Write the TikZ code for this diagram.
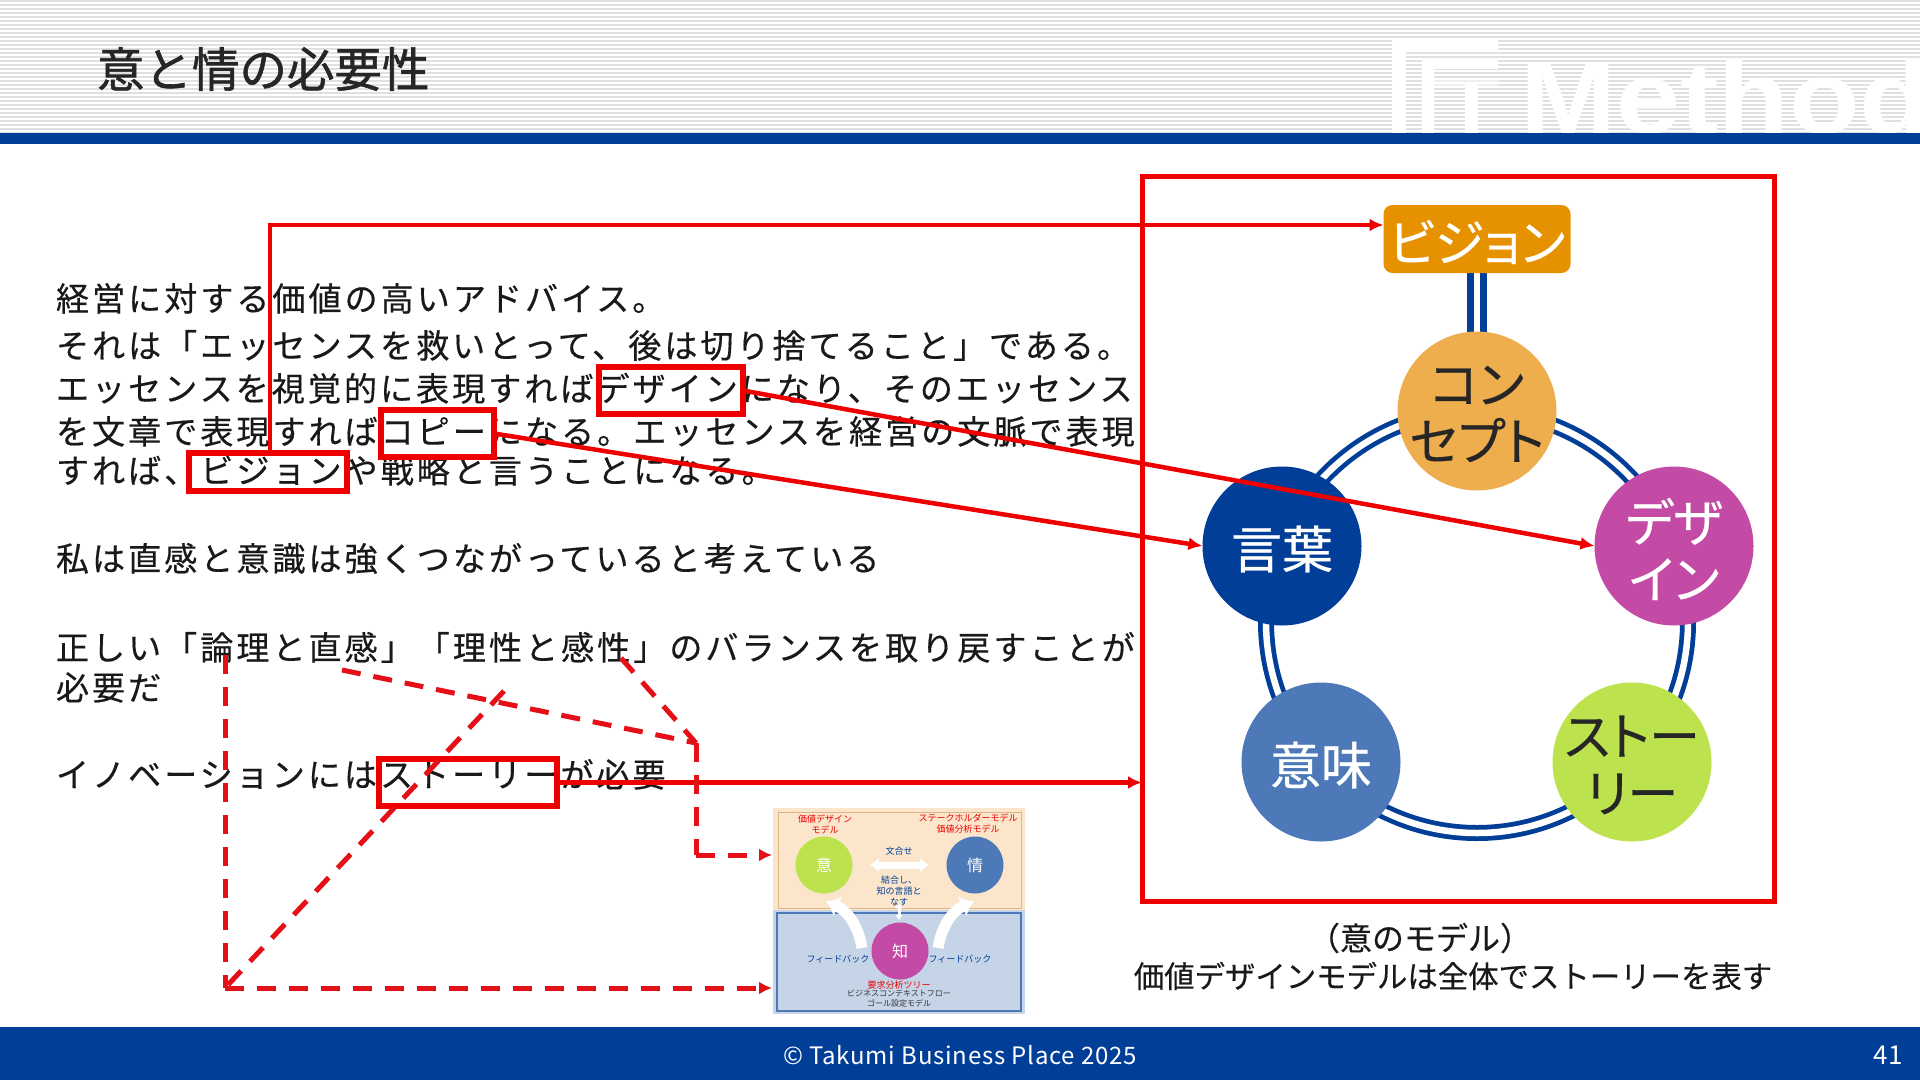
\documentclass[tikz,border=0pt]{standalone}
\usepackage{fontspec}
\usetikzlibrary{arrows.meta}
\newfontfamily\jp{Noto Sans CJK JP}
\newfontfamily\jpp[RawFeature=+palt,FakeBold=0.5]{Noto Sans CJK JP}
\newfontfamily\jpb[FakeBold=1.2]{Noto Sans CJK JP}
\newfontfamily\jpsp[LetterSpace=9,FakeBold=0.4]{Noto Sans CJK JP}
\newfontfamily\capfont[FakeBold=0.3]{Noto Sans CJK JP}
\newfontfamily\logofont[FakeStretch=1.12]{Liberation Sans}
\newfontfamily\foot[LetterSpace=3.2]{Noto Sans CJK JP}
\definecolor{navy}{HTML}{003E97}
\definecolor{redl}{HTML}{EE0000}
\definecolor{redd}{HTML}{E50F18}
\definecolor{cOrange}{HTML}{E69200}
\definecolor{cConcept}{HTML}{EFAE4E}
\definecolor{cMagenta}{HTML}{C44BA5}
\definecolor{cLime}{HTML}{BCE34D}
\definecolor{cBlue}{HTML}{4D79B9}
\definecolor{tint1}{HTML}{FBE5CB}
\definecolor{tint2}{HTML}{C6D4E8}
\tikzset{
  x=1pt,y=-1pt,
  every node/.style={inner sep=0pt,outer sep=0pt},
  body/.style={anchor=base west,font=\jpsp\fontsize{33.1}{33}\selectfont,text=black!90},
  hl/.style={draw=redl,line width=6.5pt,fill=none},
  conn/.style={draw=redl,line width=4.5pt,-{Latex[length=14pt,width=13pt]}},
  dashconn/.style={draw=redd,line width=5pt,dash pattern=on 19pt off 13pt},
  dashhead/.style={draw=redd,line width=5pt,dash pattern=on 19pt off 13pt,-{Latex[length=13pt,width=13pt]}},
  circ/.style={circle,minimum size=159pt},
  clabel/.style={align=center,yshift=-3pt,font=\jpp\fontsize{51}{57}\selectfont},
  ringo/.style={draw=navy,line width=16pt},
  ringi/.style={draw=white,line width=6.5pt},
  mini/.style={circle,minimum size=57pt},
  minilabel/.style={font=\jp\fontsize{16}{16}\selectfont,text=white},
  tiny/.style={align=center,font=\jp\fontsize{9}{11}\selectfont,text=navy},
  tinyr/.style={align=center,font=\jp\fontsize{9}{11}\selectfont,text=redl},
}
\begin{document}
\begin{tikzpicture}
\useasboundingbox (0,0) rectangle (1920,1080);
\fill[white] (0,0) rectangle (1920,1080);
% header stripes
\fill[white] (0,0) rectangle (1920,133);
\foreach \yy in {0,4,...,132}{\fill[black!12] (0,\yy) rectangle (1920,\yy+1.9);}
% logo
\fill[white] (1392,38) rectangle (1406,133);
\fill[white] (1392,38) rectangle (1498,50);
\fill[white] (1422,60) rectangle (1498,69);
\fill[white] (1422,60) rectangle (1434,133);
\fill[white] (1465,82) rectangle (1478,133);
\fill[white,opacity=.5] (1434,80) rectangle (1498,88);
\node[anchor=base west,font=\logofont\bfseries\fontsize{103}{103}\selectfont,text=white] (logotext) at (1520,133) {Method};
\fill[navy] (0,133) rectangle (1920,144);
\node[anchor=base west,font=\jpb\fontsize{47.5}{47}\selectfont,text=black!85] (title) at (97,87) {意と情の必要性};
% footer
\fill[navy] (0,1027) rectangle (1920,1080);
\node[anchor=center,font=\foot\fontsize{24}{24}\selectfont,text=white] (copy) at (960,1055) {© Takumi Business Place 2025};
\node[anchor=center,font=\foot\fontsize{26}{26}\selectfont,text=white] (page) at (1888,1055) {41};
% body text
\node[body] (l1) at (56,311) {経営に対する価値の高いアドバイス。};
\node[body] (l2) at (56,358) {それは「エッセンスを救いとって、後は切り捨てること」である。};
\node[body] (l3) at (56,401) {エッセンスを視覚的に表現すればデザインになり、そのエッセンス};
\node[body] (l4) at (56,444) {を文章で表現すればコピーになる。エッセンスを経営の文脈で表現};
\node[body] (l5) at (56,483) {すれば、ビジョンや戦略と言うことになる。};
\node[body] (l6) at (56,571) {私は直感と意識は強くつながっていると考えている};
\node[body] (l7) at (56,660) {正しい「論理と直感」「理性と感性」のバランスを取り戻すことが};
\node[body] (l8) at (56,700) {必要だ};
\node[body] (l9) at (56,787) {イノベーションにはストーリーが必要};
% caption
\node[anchor=center,font=\capfont\fontsize{32}{32}\selectfont,text=black!90] (cap1) at (1420,938) {（意のモデル）};
\node[anchor=center,font=\capfont\fontsize{30.4}{32}\selectfont,text=black!90] (cap2) at (1453,976) {価値デザインモデルは全体でストーリーを表す};
% frame
\node[draw=redl,line width=5pt,minimum width=632pt,minimum height=725pt,anchor=north west] (frame) at (1142,176) {};
% ring
\coordinate (rc) at (1477,622);
\draw[ringo] (rc) circle (211);
\draw[ringi] (rc) circle (211);
\draw[navy,line width=20pt] (1477,260) -- (1477,345);
\draw[white,line width=6.5pt] (1477,260) -- (1477,345);
% circles
\node[fill=cOrange,rounded corners=9pt,minimum width=187pt,minimum height=68pt] (vis) at (1477,239) {};
\node[clabel,text=white,font=\jpp\fontsize{50}{57}\selectfont] (visT) at (vis) {ビジョン};
\node[circ,fill=cConcept] (con) at (1477,411) {};
\node[clabel,text=black!85] (conT) at (con) {コン\\セプト};
\node[circ,fill=cMagenta] (des) at (1674,546) {};
\node[clabel,text=white] (desT) at (des) {デザ\\イン};
\node[circ,fill=cLime] (sto) at (1632,762) {};
\node[clabel,text=black!85] (stoT) at (sto) {ストー\\リー};
\node[circ,fill=cBlue] (imi) at (1321,762) {};
\node[clabel,text=white] (imiT) at (imi) {意味};
\node[circ,fill=navy] (kot) at (1282,546) {};
\node[clabel,text=white] (kotT) at (kot) {言葉};
% thumbnail
\fill[tint1] (773,808) rectangle (1025,910);
\draw[tint1!85!black!80!orange,line width=0.8pt] (778,812) rectangle (1021,908);
\fill[tint2] (773,910) rectangle (1025,1014);
\draw[cBlue,line width=1.5pt] (777,913) rectangle (1021,1011);
\node[mini,fill=cLime] (mi) at (824,865) {};
\node[minilabel] (miT) at (mi) {意};
\node[mini,fill=cBlue] (mj) at (975,865) {};
\node[minilabel] (mjT) at (mj) {情};
\draw[white,line width=3pt,{Latex[length=5pt,width=8pt]}-{Latex[length=5pt,width=8pt]}] (899,903) -- (899,920);
\node[mini,fill=cMagenta] (mc) at (900,951) {};
\node[minilabel] (mcT) at (mc) {知};
\draw[white,line width=7pt,{Latex[length=9pt,width=15pt]}-{Latex[length=9pt,width=15pt]}] (870,865) -- (929,865);
\draw[white,line width=11pt,-{Latex[length=13pt,width=22pt]}] (862,948) to[bend right=28] (826,901);
\draw[white,line width=11pt,-{Latex[length=13pt,width=22pt]}] (938,948) to[bend left=28] (974,901);
\node[tiny] (a1) at (899,851) {文合せ};
\node[tiny] (a2) at (899,891) {結合し、\\知の言語と\\なす};
\node[tinyr] (a3) at (825,824) {価値デザイン\\モデル};
\node[tinyr] (a4) at (968,824) {ステークホルダーモデル\\価値分析モデル};
\node[tiny] (a5) at (838,959) {フィードバック};
\node[tiny] (a6) at (960,959) {フィードバック};
\node[tinyr] (a7) at (899,985) {要求分析ツリー};
\node[align=center,font=\jp\fontsize{8}{10}\selectfont,text=black!80] (a8) at (899,999) {ビジネスコンテキストフロー\\ゴール設定モデル};
% highlight boxes
\node[hl,anchor=north west,minimum width=144pt,minimum height=47pt] (bdes) at (599,367) {};
\node[hl,anchor=north west,minimum width=113pt,minimum height=47pt] (bcop) at (381,410) {};
\node[hl,anchor=north west,minimum width=158pt,minimum height=38pt] (bvis) at (189,453) {};
\node[hl,anchor=north west,minimum width=178pt,minimum height=47pt] (bsto) at (379,759) {};
% red connectors
\coordinate (visc) at (270,225);
\draw[conn] (bvis.north -| visc) -- (visc) -- (vis.west |- visc);
\draw[conn] (bdes.east) -- (des.west);
\draw[conn] (bcop.east) -- (kot.west);
\draw[conn] (bsto.east) -- (frame.west |- bsto.east);
% dashed connectors
\coordinate (d1) at (225,655);
\coordinate (d2) at (225,988);
\coordinate (d3) at (342,670);
\coordinate (d4) at (696,743);
\coordinate (d5) at (504,691);
\coordinate (d6) at (621,658);
\coordinate (d7) at (696,855);
\coordinate (t1) at (772,855);
\coordinate (t2) at (772,988);
\draw[dashconn] (d1) -- (d2);
\draw[dashhead] (d2) -- (t2);
\draw[dashconn] (d5) -- (d2);
\draw[dashconn] (d3) -- (d4);
\draw[dashconn] (d6) -- (d4);
\draw[dashconn] (d4) -- (d7);
\draw[dashhead] (d7) -- (t1);
\end{tikzpicture}
\end{document}
